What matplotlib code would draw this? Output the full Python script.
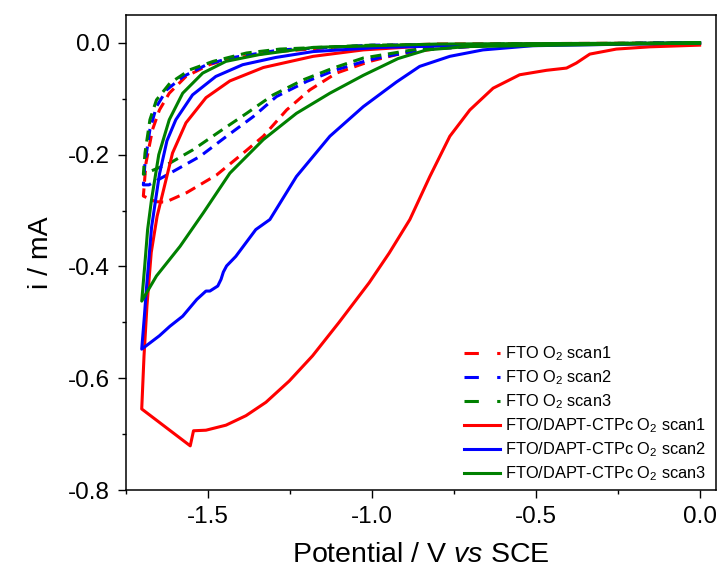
import matplotlib
matplotlib.use("Agg")
import matplotlib.pyplot as plt
from matplotlib.ticker import MultipleLocator, FormatStrFormatter

plt.rcParams["font.family"] = ["Liberation Sans", "DejaVu Sans"]
plt.rcParams["mathtext.fontset"] = "custom"
plt.rcParams["mathtext.rm"] = "Liberation Sans"
plt.rcParams["mathtext.it"] = "Liberation Sans:italic"
plt.rcParams["mathtext.default"] = "regular"
plt.rcParams["axes.unicode_minus"] = False

# ---- data: potential (V vs SCE) / current (mA), loop 0 -> -1.7 -> 0 ----
fto1_v = [0.0, -0.6, -0.8, -0.925, -1.006, -1.108, -1.189, -1.260, -1.331, -1.392, -1.473,
          -1.565, -1.630, -1.660, -1.697,
          -1.689, -1.669, -1.648, -1.618, -1.567, -1.496, -1.445, -1.3, -1.1, -0.8, 0.0]
fto1_i = [0.0, -0.003, -0.010, -0.021, -0.033, -0.054, -0.084, -0.120, -0.167, -0.197, -0.236,
          -0.268, -0.285, -0.284, -0.274,
          -0.215, -0.155, -0.120, -0.090, -0.060, -0.039, -0.030, -0.016, -0.007, -0.002, 0.0]

fto2_v = [0.0, -0.6, -0.85, -1.006, -1.108, -1.199, -1.291, -1.362, -1.443, -1.524, -1.606,
          -1.68, -1.697,
          -1.692, -1.677, -1.657, -1.626, -1.575, -1.504, -1.433, -1.280, -1.0, 0.0]
fto2_i = [0.0, -0.003, -0.012, -0.030, -0.048, -0.069, -0.096, -0.132, -0.167, -0.203, -0.230,
          -0.254, -0.254,
          -0.215, -0.155, -0.114, -0.084, -0.060, -0.039, -0.027, -0.0125, -0.004, 0.0]

fto3_v = [0.0, -0.6, -0.85, -1.026, -1.118, -1.209, -1.301, -1.382, -1.463, -1.545, -1.616,
          -1.697,
          -1.692, -1.677, -1.657, -1.616, -1.555, -1.484, -1.382, -1.280, -1.0, 0.0]
fto3_i = [0.0, -0.002, -0.010, -0.027, -0.045, -0.066, -0.093, -0.126, -0.158, -0.191, -0.215,
          -0.235,
          -0.197, -0.1375, -0.102, -0.072, -0.048, -0.033, -0.018, -0.011, -0.004, 0.0]

pc1_v = [0.0, -0.152, -0.254, -0.335, -0.376, -0.406, -0.467, -0.549, -0.630, -0.701, -0.762,
         -0.823, -0.884, -0.947, -1.008, -1.100, -1.181, -1.252, -1.323, -1.384, -1.445,
         -1.506, -1.544, -1.554, -1.702,
         -1.695, -1.686, -1.673, -1.655, -1.635, -1.608, -1.567, -1.506, -1.433, -1.331,
         -1.179, -1.026, -0.823, -0.5, 0.0]
pc1_i = [-0.004, -0.007, -0.011, -0.020, -0.036, -0.045, -0.049, -0.057, -0.081, -0.120, -0.167,
         -0.239, -0.316, -0.376, -0.429, -0.500, -0.560, -0.605, -0.643, -0.667, -0.684,
         -0.693, -0.694, -0.721, -0.655,
         -0.560, -0.470, -0.375, -0.310, -0.262, -0.197, -0.143, -0.098, -0.068, -0.044,
         -0.024, -0.0125, -0.005, -0.002, -0.001]

pc2_v = [0.0, -0.509, -0.661, -0.762, -0.854, -0.925, -1.026, -1.128, -1.230, -1.311, -1.354,
         -1.415, -1.443, -1.453, -1.460, -1.470, -1.494, -1.506, -1.534, -1.577, -1.616,
         -1.648, -1.702,
         -1.694, -1.687, -1.672, -1.648, -1.625, -1.598, -1.547, -1.476, -1.394, -1.293,
         -1.179, -0.976, -0.6, 0.0]
pc2_i = [0.0, -0.005, -0.0125, -0.024, -0.042, -0.070, -0.114, -0.167, -0.239, -0.316, -0.334,
         -0.382, -0.399, -0.410, -0.423, -0.435, -0.444, -0.444, -0.459, -0.489, -0.507,
         -0.524, -0.548,
         -0.490, -0.435, -0.330, -0.235, -0.175, -0.1375, -0.093, -0.060, -0.039, -0.026,
         -0.0155, -0.008, -0.003, 0.0]

pc3_v = [0.0, -0.711, -0.833, -0.92, -1.026, -1.128, -1.230, -1.331, -1.433, -1.514, -1.585,
         -1.657, -1.702,
         -1.693, -1.684, -1.672, -1.650, -1.618, -1.577, -1.516, -1.445, -1.344, -1.179,
         -0.8, 0.0]
pc3_i = [0.0, -0.0066, -0.0125, -0.028, -0.058, -0.090, -0.126, -0.173, -0.233, -0.304, -0.364,
         -0.417, -0.462,
         -0.400, -0.334, -0.280, -0.200, -0.1375, -0.090, -0.054, -0.033, -0.021, -0.008,
         -0.002, 0.0]

labels = ["FTO O$_2$ scan1", "FTO O$_2$ scan2", "FTO O$_2$ scan3",
          "FTO/DAPT-CTPc O$_2$ scan1", "FTO/DAPT-CTPc O$_2$ scan2", "FTO/DAPT-CTPc O$_2$ scan3"]

fig = plt.figure(figsize=(7.22, 5.76), dpi=100)
ax = fig.add_axes([0.1745, 0.1493, 0.8172, 0.8247])

lw = 2.2
dash = (3.6, 2.2)
ax.plot(fto1_v, fto1_i, color="#ff0000", lw=lw, dashes=dash, label=labels[0])
ax.plot(fto2_v, fto2_i, color="#0000ff", lw=lw, dashes=dash, label=labels[1])
ax.plot(fto3_v, fto3_i, color="#008000", lw=lw, dashes=dash, label=labels[2])
ax.plot(pc1_v, pc1_i, color="#ff0000", lw=lw, label=labels[3])
ax.plot(pc2_v, pc2_i, color="#0000ff", lw=lw, label=labels[4])
ax.plot(pc3_v, pc3_i, color="#008000", lw=lw, label=labels[5])

ax.set_xlim(-1.75, 0.05)
ax.set_ylim(-0.8, 0.05)
ax.xaxis.set_major_locator(MultipleLocator(0.5))
ax.xaxis.set_minor_locator(MultipleLocator(0.25))
ax.yaxis.set_major_locator(MultipleLocator(0.2))
ax.yaxis.set_minor_locator(MultipleLocator(0.1))
ax.xaxis.set_major_formatter(FormatStrFormatter("%.1f"))
ax.yaxis.set_major_formatter(FormatStrFormatter("%.1f"))
ax.tick_params(which="major", direction="out", length=5.8, width=1.0, labelsize=17.5, pad=6)
ax.tick_params(which="minor", direction="out", length=2.6, width=1.0)
for s in ax.spines.values():
    s.set_linewidth(1.1)

ax.set_xlabel("Potential / V $\\it{vs}$ SCE", fontsize=20.5, labelpad=10)
ax.set_ylabel("i / mA", fontsize=20.5, labelpad=10)

leg = ax.legend(loc="lower right", bbox_to_anchor=(1.0, -0.006), frameon=False, fontsize=11.8,
                handlelength=2.2, handletextpad=0.3, labelspacing=0.32, borderaxespad=0.2)
for h in leg.get_lines()[:3]:
    h.set_dashes((4.7, 6.0))

fig.savefig("out.png", dpi=100)
